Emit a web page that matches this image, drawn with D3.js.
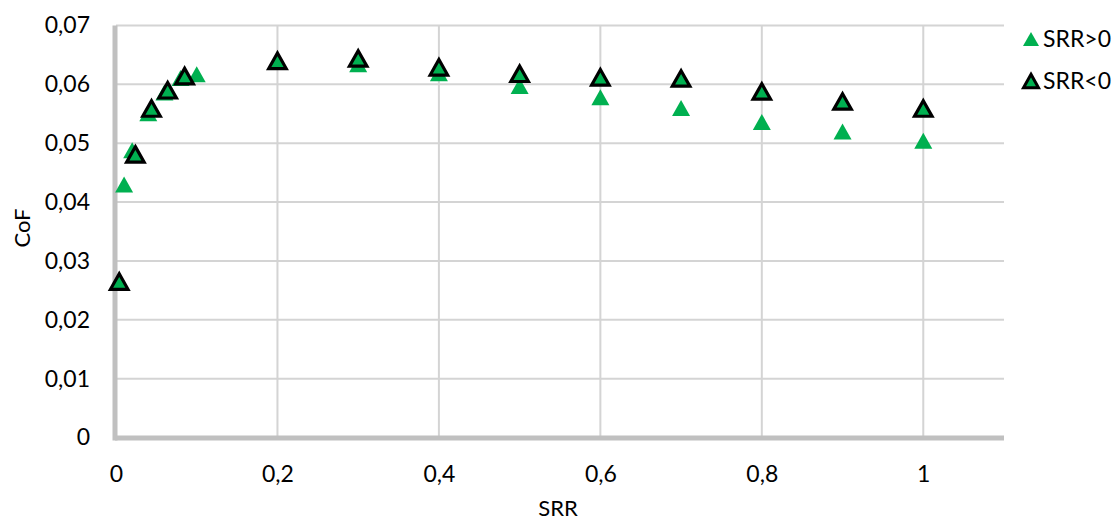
<!DOCTYPE html>
<html>
<head>
<meta charset="utf-8">
<script src="https://cdn.jsdelivr.net/npm/d3@7"></script>
<style>
  html, body { margin: 0; padding: 0; background: #fff; }
  svg { display: block; font-family: Lato, "Open Sans", sans-serif; }
</style>
</head>
<body>
<svg id="chart" width="1116" height="522"></svg>
<script>
// Coefficient of friction vs slide-to-roll ratio
const srrPos = [0.01, 0.02, 0.04, 0.06, 0.08, 0.1, 0.2, 0.3, 0.4, 0.5, 0.6, 0.7, 0.8, 0.9, 1.0];
const cofPos = [0.0430, 0.0488, 0.0551, 0.0586, 0.0611, 0.0617, 0.0639, 0.0634, 0.0619, 0.0597, 0.0578, 0.0560, 0.0536, 0.0520, 0.0504];

const srrNeg = [0.004, 0.024, 0.044, 0.064, 0.085, 0.2, 0.3, 0.4, 0.5, 0.6, 0.7, 0.8, 0.9, 1.0];
const cofNeg = [0.0265, 0.0481, 0.0559, 0.0590, 0.0614, 0.0640, 0.0644, 0.0629, 0.0618, 0.0612, 0.0610, 0.0588, 0.0571, 0.0559];

const xTicks = [0, 0.2, 0.4, 0.6, 0.8, 1];
const yTicks = [0, 0.01, 0.02, 0.03, 0.04, 0.05, 0.06, 0.07];
const seriesNames = ["SRR>0", "SRR<0"];

const green = "#00b050";
const fmt = v => String(+v.toFixed(2)).replace(".", ",");

const svg = d3.select("#chart");
const margin = { left: 116, right: 112, top: 25.5, bottom: 84.5 };
const W = 1116, H = 522;

const x = d3.scaleLinear().domain([0, 1.1]).range([margin.left, W - margin.right]);
const y = d3.scaleLinear().domain([0, 0.07]).range([H - margin.bottom, margin.top]);

// grid
const grid = svg.append("g");
grid.selectAll("line.h").data(yTicks.slice(1)).join("line")
  .attr("x1", x(0)).attr("x2", x(1.1))
  .attr("y1", d => y(d)).attr("y2", d => y(d))
  .attr("stroke", "#d4d4d4").attr("stroke-width", 2);
grid.selectAll("line.v").data(xTicks.slice(1)).join("line")
  .attr("x1", d => x(d)).attr("x2", d => x(d))
  .attr("y1", y(0)).attr("y2", y(0.07))
  .attr("stroke", "#d4d4d4").attr("stroke-width", 2);

// axes
const xAxis = d3.axisBottom(x).tickValues(xTicks).tickFormat(fmt).tickSize(0).tickPadding(28);
const yAxis = d3.axisLeft(y).tickValues(yTicks).tickFormat(fmt).tickSize(0).tickPadding(26);

const gx = svg.append("g").attr("transform", `translate(0,${y(0)})`).call(xAxis);
const gy = svg.append("g").attr("transform", `translate(${x(0)},0)`).call(yAxis);
[gx, gy].forEach(g => {
  g.select(".domain").remove();
  g.selectAll("text").attr("font-size", 23).attr("fill", "#000").attr("font-family", "Lato, sans-serif");
});

svg.append("line")
  .attr("x1", x(0) - 1).attr("x2", x(1.1))
  .attr("y1", y(0) + 0.5).attr("y2", y(0) + 0.5)
  .attr("stroke", "#c0c0c0").attr("stroke-width", 5);
svg.append("line")
  .attr("x1", x(0) - 1).attr("x2", x(0) - 1)
  .attr("y1", y(0.07)).attr("y2", y(0) + 3)
  .attr("stroke", "#c0c0c0").attr("stroke-width", 5);

// axis titles
svg.append("text").attr("x", x(0.55) - 2).attr("y", 516)
  .attr("text-anchor", "middle").attr("font-size", 22).attr("fill", "#000").text("SRR");
svg.append("text").attr("transform", `translate(30,228) rotate(-90)`)
  .attr("text-anchor", "middle").attr("font-size", 22).attr("fill", "#000").text("CoF");

// triangle path centred on its bounding box
const tri = (w, h) => `M0,${-h / 2}L${w / 2},${h / 2}L${-w / 2},${h / 2}Z`;

const pts = svg.append("g");
pts.selectAll("path.pos").data(srrPos.map((v, i) => [v, cofPos[i]])).join("path")
  .attr("transform", d => `translate(${x(d[0])},${y(d[1])})`)
  .attr("d", tri(18, 16)).attr("fill", green);
pts.selectAll("path.neg").data(srrNeg.map((v, i) => [v, cofNeg[i]])).join("path")
  .attr("transform", d => `translate(${x(d[0])},${y(d[1])})`)
  .attr("d", tri(17.5, 15.5)).attr("fill", green)
  .attr("stroke", "#000").attr("stroke-width", 3.2).attr("stroke-linejoin", "miter");

// legend
const legend = svg.append("g");
const lg = legend.selectAll("g").data(seriesNames).join("g")
  .attr("transform", (d, i) => `translate(1031,${39 + i * 42})`);
lg.append("path")
  .attr("d", (d, i) => i === 0 ? tri(16, 14) : tri(15, 13.5))
  .attr("fill", green)
  .attr("stroke", (d, i) => i === 0 ? "none" : "#000")
  .attr("stroke-width", 3);
lg.append("text").attr("x", 12).attr("y", 8).attr("font-size", 23).attr("fill", "#000").text(d => d);
</script>
</body>
</html>
